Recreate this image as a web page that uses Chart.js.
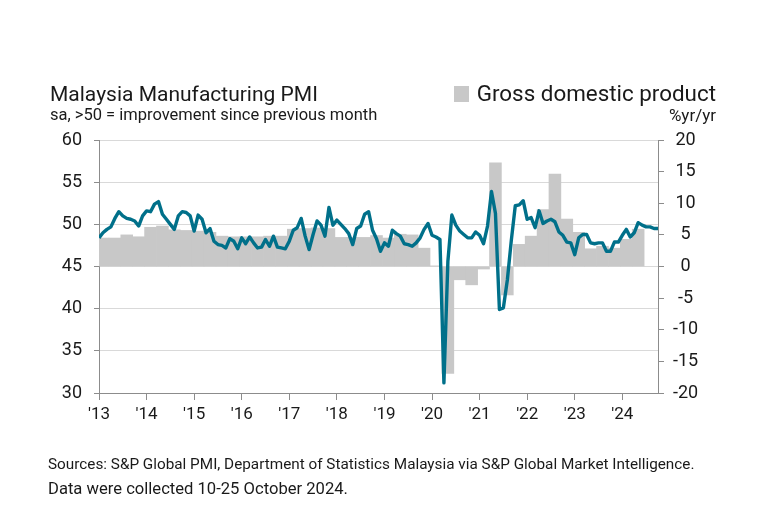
<!DOCTYPE html>
<html>
<head>
<meta charset="utf-8">
<script src="https://cdn.jsdelivr.net/npm/chart.js@4.4.1/dist/chart.umd.min.js"></script>
<style>
    body { margin: 0; background: #fff; font-family: Roboto, "Liberation Sans", sans-serif; color: #1a1a1a; }
    .wrap { position: relative; width: 778px; height: 516px; }
    .wrap canvas { position: absolute; left: 0; top: 0; }
    .txt { position: absolute; white-space: nowrap; line-height: 1; }
    .title { left: 50px; top: 84px; font-size: 21px; }
    .sub { left: 50px; top: 107px; font-size: 16.5px; }
    .legend { right: 62px; top: 82px; font-size: 22.4px; }
    .legend i { display: inline-block; width: 15px; height: 16px; background: #c8c8c8; margin-right: 8px; vertical-align: -1px; }
    .unit { right: 62px; top: 107px; font-size: 17px; }
    .src { left: 48px; top: 457px; font-size: 15.3px; }
    .note { left: 48px; top: 481px; font-size: 16.6px; }
</style>
</head>
<body>
<div class="wrap">
    <canvas id="pmiChart"></canvas>
    <div class="txt title">Malaysia Manufacturing PMI</div>
    <div class="txt sub">sa, &gt;50 = improvement since previous month</div>
    <div class="txt legend"><i></i>Gross domestic product</div>
    <div class="txt unit">%yr/yr</div>
    <div class="txt src">Sources: S&amp;P Global PMI, Department of Statistics Malaysia via S&amp;P Global Market Intelligence.</div>
    <div class="txt note">Data were collected 10-25 October 2024.</div>
</div>
<script>
// x axis: month index, 0 = Jan 2013 ... 141 = Oct 2024
const yearLabels = ["'13", "'14", "'15", "'16", "'17", "'18", "'19", "'20", "'21", "'22", "'23", "'24"];

// Manufacturing PMI, monthly Jan 2013 - Oct 2024
const pmi = [
    48.4, 49.0, 49.4, 49.7, 50.7, 51.5, 51.0, 50.7, 50.6, 50.4, 49.8, 51.0,
    51.6, 51.5, 52.4, 52.7, 51.2, 50.6, 50.0, 49.4, 51.0, 51.5, 51.4, 51.0,
    49.2, 51.1, 50.6, 49.0, 49.5, 48.0, 47.6, 47.5, 47.2, 48.3, 48.0, 47.1,
    48.4, 47.7, 48.5, 47.8, 47.2, 47.3, 48.2, 47.4, 48.6, 47.3, 47.2, 47.1,
    48.0, 49.3, 49.6, 50.7, 48.6, 47.0, 48.8, 50.4, 49.9, 48.6, 52.0, 49.9,
    50.5, 50.0, 49.5, 48.9, 47.6, 49.5, 49.8, 51.2, 51.5, 49.3, 48.3, 46.8,
    47.8, 47.4, 49.3, 48.9, 48.6, 47.7, 47.6, 47.4, 47.8, 48.4, 49.4, 50.1,
    48.7, 48.5, 48.2, 31.2, 45.6, 51.1, 49.9, 49.2, 48.8, 48.4, 48.4, 49.1,
    48.7, 47.7, 49.8, 53.9, 51.3, 39.9, 40.1, 43.4, 48.1, 52.2, 52.3, 52.8,
    50.6, 50.8, 49.6, 51.6, 50.1, 50.4, 50.6, 50.3, 49.1, 48.7, 47.9, 47.8,
    46.4, 48.4, 48.8, 48.8, 47.8, 47.7, 47.8, 47.8, 46.8, 46.8, 47.9, 47.9,
    48.7, 49.4, 48.5, 49.0, 50.2, 49.9, 49.7, 49.7, 49.5, 49.5
];

// GDP %yr/yr, quarterly Q1 2013 - Q2 2024
const gdp = [
    4.5, 4.5, 5.0, 4.7,
    6.2, 6.4, 5.8, 5.7,
    5.6, 5.4, 4.8, 4.7,
    4.7, 4.7, 4.8, 4.8,
    5.9, 6.0, 6.1, 6.0,
    4.6, 4.6, 4.6, 4.9,
    4.5, 5.1, 5.0, 2.9,
    0.1, -16.9, -2.1, -2.9,
    -0.4, 16.4, -4.5, 3.5,
    4.8, 9.0, 14.6, 7.5,
    5.4, 2.8, 3.2, 2.9,
    4.3, 5.9
];

const pmiTicks = [30, 35, 40, 45, 50, 55, 60];
const gdpTicks = [-20, -15, -10, -5, 0, 5, 10, 15, 20];

const axisGrey = '#8c8c8c';
const textColor = '#1a1a1a';

document.addEventListener('DOMContentLoaded', function() {
    const ctx = document.getElementById('pmiChart').getContext('2d');

    new Chart(ctx, {
        type: 'line',
        data: {
            datasets: [{
                label: 'PMI',
                type: 'line',
                data: pmi.map((v, i) => ({ x: i, y: v })),
                yAxisID: 'y',
                borderColor: '#00708a',
                borderWidth: 3.4,
                pointRadius: 0,
                tension: 0,
                borderJoinStyle: 'round',
                order: 0
            }, {
                label: 'Gross domestic product',
                type: 'bar',
                // each quarter sits on its middle month
                data: gdp.map((v, q) => ({ x: q * 3 + 1, y: v })),
                yAxisID: 'y1',
                backgroundColor: '#c8c8c8',
                borderWidth: 0,
                barPercentage: 1,
                categoryPercentage: 1,
                order: 1
            }]
        },
        options: {
            responsive: true,
            maintainAspectRatio: false,
            animation: false,
            layout: { padding: { top: 140 } },
            plugins: {
                legend: { display: false },
                tooltip: { enabled: false }
            },
            scales: {
                x: {
                    type: 'linear',
                    min: 0,
                    max: 141,
                    offset: false,
                    afterFit: s => { s.height = 123; },
                    afterBuildTicks: s => { s.ticks = yearLabels.map((l, i) => ({ value: i * 12 })); },
                    ticks: {
                        callback: v => yearLabels[v / 12],
                        autoSkip: false,
                        maxRotation: 0,
                        color: textColor,
                        font: { family: 'Roboto', size: 17 },
                        padding: 5
                    },
                    grid: { offset: false, drawOnChartArea: false, drawTicks: true, tickLength: 7, color: axisGrey },
                    border: { color: axisGrey }
                },
                y: {
                    position: 'left',
                    min: 30,
                    max: 60,
                    afterFit: s => { s.width = 99; },
                    afterBuildTicks: s => { s.ticks = pmiTicks.map(v => ({ value: v })); },
                    ticks: {
                        color: textColor,
                        font: { family: 'Roboto', size: 18 },
                        padding: 12
                    },
                    grid: { color: '#d9d9d9', tickColor: axisGrey, tickLength: 5 },
                    border: { color: axisGrey }
                },
                y1: {
                    position: 'right',
                    min: -20,
                    max: 20,
                    afterFit: s => { s.width = 120; },
                    afterBuildTicks: s => { s.ticks = gdpTicks.map(v => ({ value: v })); },
                    ticks: {
                        color: textColor,
                        font: { family: 'Roboto', size: 18 },
                        padding: 9,
                        crossAlign: 'center'
                    },
                    grid: { drawOnChartArea: false, tickLength: 6, color: axisGrey },
                    border: { color: axisGrey }
                }
            }
        }
    });
});
</script>
</body>
</html>
